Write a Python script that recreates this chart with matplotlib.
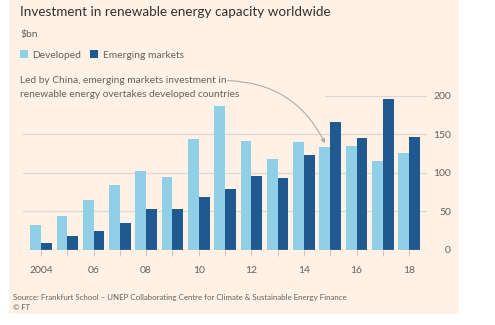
import matplotlib
matplotlib.use("Agg")
import matplotlib.pyplot as plt
from matplotlib.patches import Rectangle
import numpy as np

years = list(range(2004, 2019))
developed = [32, 44, 64, 84, 102, 94, 144, 186, 141, 118, 140, 133, 134, 115, 125]
emerging = [8, 17, 24, 35, 52, 52, 68, 78, 95, 93, 123, 166, 145, 195, 146]
yticks = [0, 50, 100, 150, 200]

BG = "#FFF1E5"
LIGHT = "#8FD0E6"
DARK = "#1E5A8F"
GREY = "#66605C"
GRID = "#E0D7CF"

plt.rcParams['font.family'] = ['Lato', 'DejaVu Sans']

W, H = 495, 325
fig = plt.figure(figsize=(W / 100, H / 100), dpi=100)
fig.patch.set_facecolor("white")
fig.patches.append(Rectangle((9 / W, 1 - 314 / H), (459 - 9) / W, 314 / H,
                             transform=fig.transFigure, facecolor=BG, edgecolor="none", zorder=-10))

def fx(px):
    return px / W

def fy(py):
    return 1 - py / H

ax_l, ax_r, ax_b, ax_t = 23, 427, 249.5, 95.6
ax = fig.add_axes([fx(ax_l), fy(ax_b), (ax_r - ax_l) / W, (ax_b - ax_t) / H])
ax.set_zorder(2)
ax.set_facecolor("none")
ax.set_xlim(2003.315, 2018.68)
ax.set_ylim(0, 200)

w = 0.41
x = np.array(years)
ax.bar(x - w / 2, developed, width=w, color=LIGHT, zorder=3)
ax.bar(x + w / 2, emerging, width=w, color=DARK, zorder=3)

for v in [50, 100, 150]:
    ax.axhline(v, color=GRID, lw=0.9, zorder=1)
ax.axhline(200, xmin=0.748, color=GRID, lw=0.9, zorder=1)
ax.axhline(0, color="#CFC6BD", lw=0.9, zorder=4)

for s in ax.spines.values():
    s.set_visible(False)

ax.set_xticks(years)
lbls = []
for y in years:
    if y == 2004:
        lbls.append("2004")
    elif y % 2 == 0:
        lbls.append(f"{y % 100:02d}")
    else:
        lbls.append("")
ax.set_xticklabels(lbls)
ax.tick_params(axis="x", length=4, width=0.8, color="#CFC6BD", pad=8, labelsize=7.5, labelcolor=GREY)

ax.yaxis.tick_right()
ax.set_yticks(yticks)
ax.set_yticklabels([str(v) for v in yticks])
ax.tick_params(axis="y", length=0, pad=17.3, labelsize=7.5, labelcolor=GREY)
for t in ax.get_yticklabels():
    t.set_horizontalalignment("right")

fig.text(fx(20), fy(16), "Investment in renewable energy capacity worldwide",
         fontsize=9.7, color="#33302E", ha="left", va="baseline")
fig.text(fx(20), fy(37), "$bn", fontsize=7.4, color=GREY, ha="left", va="baseline")

fig.patches.append(Rectangle((fx(20), fy(58)), 8 / W, 8 / H, transform=fig.transFigure,
                             facecolor=LIGHT, edgecolor="none"))
fig.text(fx(32), fy(57.5), "Developed", fontsize=7.4, color=GREY, ha="left", va="baseline")
fig.patches.append(Rectangle((fx(90), fy(58)), 8 / W, 8 / H, transform=fig.transFigure,
                             facecolor=DARK, edgecolor="none"))
fig.text(fx(103), fy(57.5), "Emerging markets", fontsize=7.4, color=GREY, ha="left", va="baseline")

fig.text(fx(20), fy(83), "Led by China, emerging markets investment in",
         fontsize=7.3, color=GREY, ha="left", va="baseline")
fig.text(fx(20), fy(97), "renewable energy overtakes developed countries",
         fontsize=7.3, color=GREY, ha="left", va="baseline")

ax.annotate("", xy=(2014.8, 138), xytext=(2011.1, 219.5), xycoords="data",
            arrowprops=dict(arrowstyle="-|>", color="#B5ABA3", lw=0.8,
                            mutation_scale=6, connectionstyle="arc3,rad=-0.3",
                            shrinkA=0, shrinkB=0),
            annotation_clip=False, zorder=5)

fig.text(fx(13), fy(300), "Source: Frankfurt School \u2013 UNEP Collaborating Centre for Climate & Sustainable Energy Finance",
         fontsize=5.65, color=GREY, ha="left", va="baseline")
fig.text(fx(13), fy(310), "\u00a9 FT", fontsize=5.65, color=GREY, ha="left", va="baseline", style="italic")

fig.savefig("out.png", dpi=100, facecolor=fig.get_facecolor())
